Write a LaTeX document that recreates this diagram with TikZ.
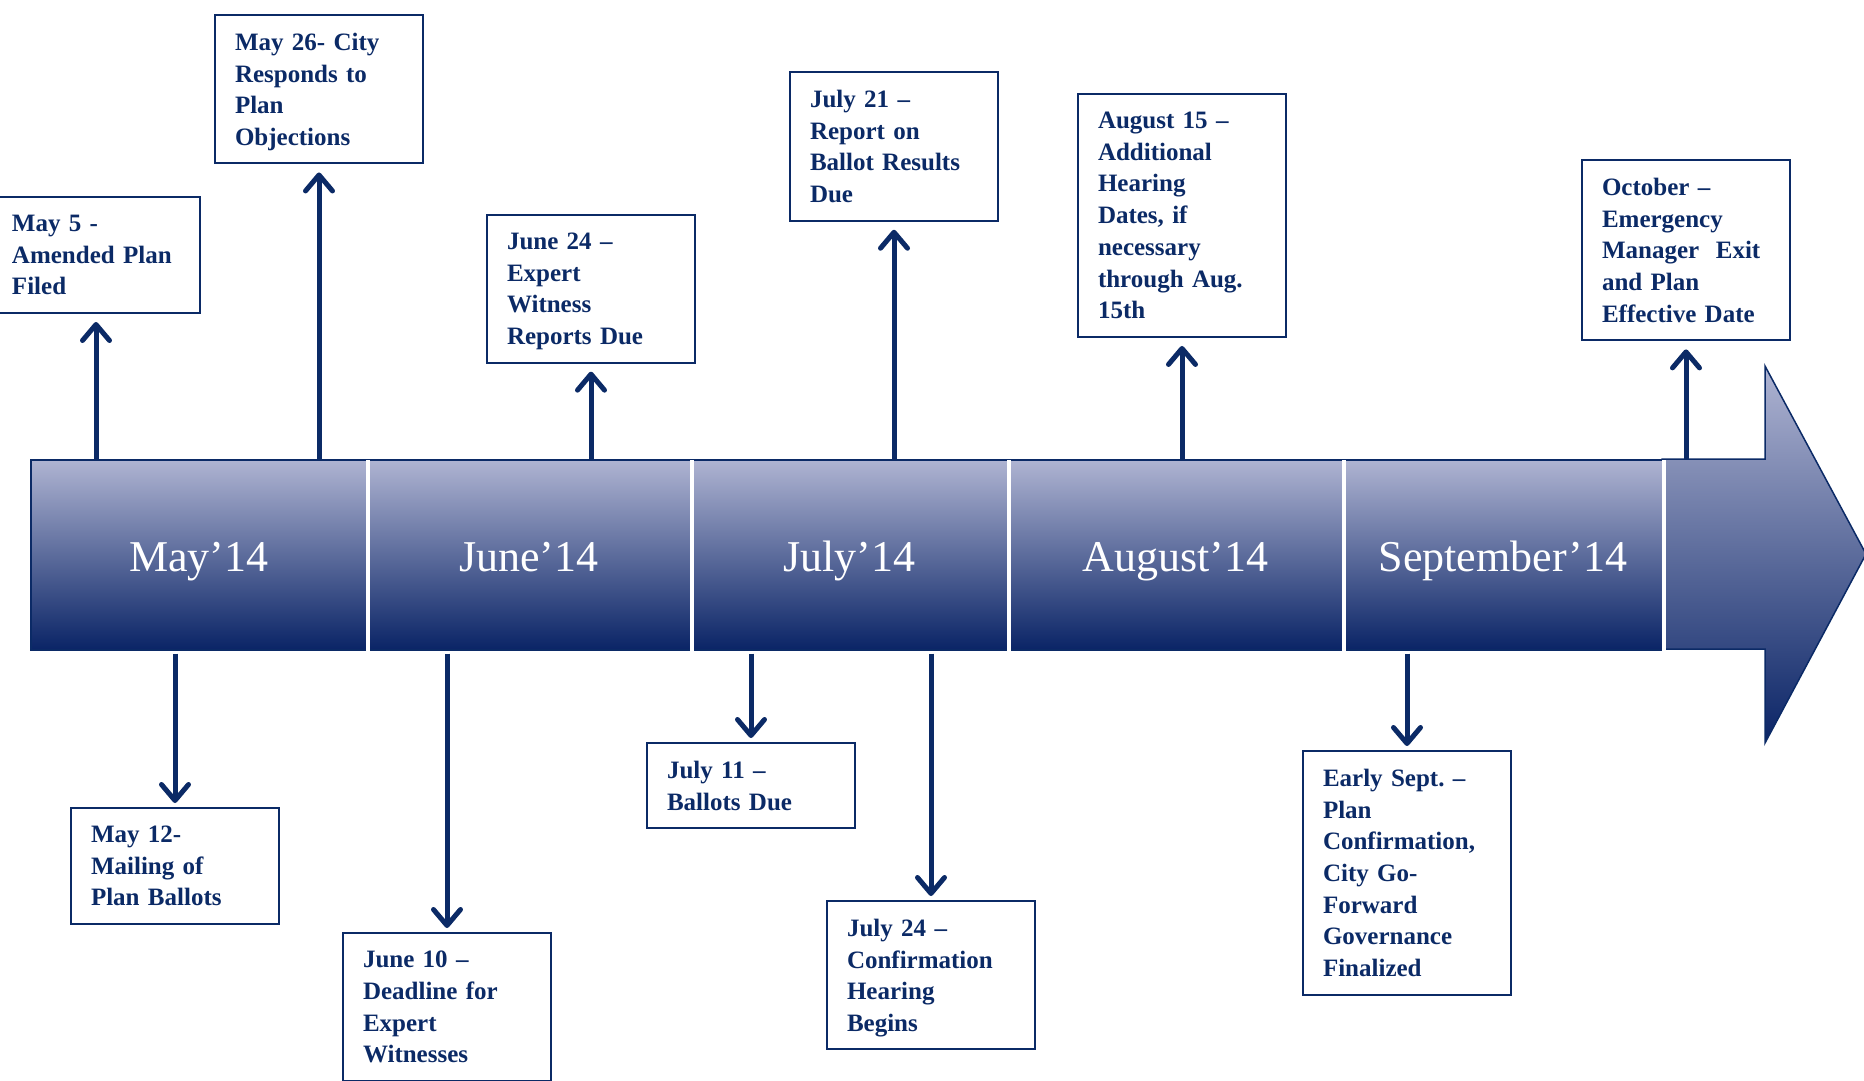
\documentclass[tikz,border=0pt]{standalone}
\usepackage{fontspec}
\setmainfont{Liberation Serif}
\usetikzlibrary{arrows.meta}
\definecolor{navy}{HTML}{0B2A66}
\definecolor{bandtop}{HTML}{AFB4D2}
\definecolor{bandmid}{HTML}{7E85A8}
\definecolor{bandbot}{HTML}{0A2466}
\frenchspacing

\begin{document}
\begin{tikzpicture}[x=1pt,y=-1pt,
        month/.style={draw=navy,line width=1.5pt,top color=bandtop,middle color=bandmid,bottom color=bandbot,
            minimum height=190pt,anchor=north west,inner sep=0pt,text height=40pt,text depth=6pt,
            text=white,font=\fontsize{44}{50}\selectfont},
        event/.style={draw=navy,line width=2pt,fill=white,anchor=north west,text width=168pt,align=left,
            inner xsep=20pt,inner ysep=18pt,text=navy,font=\fontsize{25}{31.7}\selectfont\bfseries},
        tick/.style={line width=5pt,navy,-{Straight Barb[length=16pt,width=27pt,round]}},
        gap/.style={draw=white,line width=4pt}
    ]
    \useasboundingbox (0,0) rectangle (1864,1081);
    % big arrow and the months
    \draw[draw=navy,line width=1.5pt,top color=bandtop,middle color=bandmid,bottom color=bandbot]
        (1662,459) -- (1765,459) -- (1765,366) -- (1866,554) -- (1765,743) -- (1765,649) -- (1662,649) -- cycle;
    \node[month,minimum width=336pt] (may) at (30,459) {May’14};
    \node[month,minimum width=324pt] (june) at (366,459) {June’14};
    \node[month,minimum width=317pt] (july) at (690,459) {July’14};
    \node[month,minimum width=335pt] (aug) at (1007,459) {August’14};
    \node[month,minimum width=320pt] (sep) at (1342,459) {September’14};
    \foreach \m in {may,june,july,aug,sep}
        \draw[gap] ([yshift=-1pt]\m.north east) -- ([yshift=-3pt]\m.south east);

    % events above
    \node[event] (e5) at (-9,196) {May 5 -\\Amended Plan\\Filed};
    \node[event] (e26) at (214,14) {May 26- City\\Responds to\\Plan\\\smash{Objections}};
    \node[event] (j24) at (486,214) {June 24 –\\Expert\\Witness\\\smash{Reports Due}};
    \node[event] (l21) at (789,71) {July 21 –\\Report on\\Ballot Results\\Due};
    \node[event] (a15) at (1077,93) {August 15 –\\Additional\\Hearing\\Dates, if\\necessary\\through Aug.\\15th};
    \node[event] (oct) at (1581,159) {October –\\Emergency\\Manager~ Exit\\and Plan\\Effective Date};
    % events below
    \node[event] (e12) at (70,807) {May 12-\\Mailing of\\Plan Ballots};
    \node[event] (j10) at (342,932) {June 10 –\\Deadline for\\Expert\\Witnesses};
    \node[event] (l11) at (646,742) {July 11 –\\Ballots Due};
    \node[event] (l24) at (826,900) {July 24 –\\Confirmation\\Hearing\\\smash{Begins}};
    \node[event] (esep) at (1302,750) {Early Sept. –\\Plan\\Confirmation,\\City Go-\\Forward\\Governance\\Finalized};

    \foreach \e/\m in {e5/may,e26/may,j24/june,l21/july,a15/aug}
        \draw[tick,shorten >=8pt] (\e |- \m.north) -- (\e.south);
    \draw[tick,shorten >=8pt] (oct |- sep.north) -- (oct.south);
    \foreach \e/\m in {e12/may,j10/june,l11/july,l24/july,esep/sep}
        \draw[tick,shorten <=3pt,shorten >=4pt] (\e |- \m.south) -- (\e.north);
\end{tikzpicture}
\end{document}
